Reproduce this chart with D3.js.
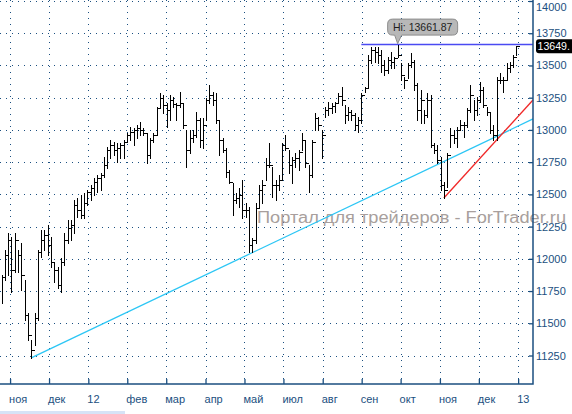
<!DOCTYPE html>
<html><head><meta charset="utf-8">
<script src="https://cdn.jsdelivr.net/npm/d3@7"></script>
<style>html,body{margin:0;padding:0;background:#fff;overflow:hidden}</style>
</head><body>
<svg id="c" width="572" height="414"></svg>
<script>
// ---- data ----
const monthLabels = ["ноя","дек","12","фев","мар","апр","май","июл","авг","сен","окт","ноя","дек","13"];
const monthTickBars = [2.6,14.4,26.3,38.1,49.9,61.8,73.6,85.4,97.3,109.1,120.9,132.8,144.6,156.5];
const yTicks = [11250,11500,11750,12000,12250,12500,12750,13000,13250,13500,13750,14000];

const high = [11875,12069,12200,12170,12200,12069,12123,11836,11580,11371,11580,12069,12224,12224,12263,12170,11976,11937,12007,12200,12302,12302,12457,12472,12495,12511,
12534,12573,12627,12651,
12666,12790,12868,12922,12906,12899,12899,12922,12976,13023,13015,13038,13062,13015,12976,12938,12976,13178,13287,13271,13209,13271,13256,13209,13294,13209,13000,13000,13000,13139,13093,13093,
13248,13349,13294,13287,13077,12938,12860,12689,12588,12511,12550,12612,12433,12402,12162,12433,12573,12612,12782,12899,12713,12612,12651,12899,12961,12845,12790,12821,12845,12976,12922,12728,
12922,13131,13100,13000,13178,13217,13209,13217,13287,13333,13194,13178,13155,13131,13100,13287,13333,13581,13640,13643,13645,13620,13543,13566,13605,13566,13661.87,13519,13411,13519,13597,13543,13364,
13310,13155,13287,13271,12899,12883,12790,12596,12821,13015,13000,13023,13077,13062,13170,13349,13232,13256,13372,13333,13178,13139,13038,13411,13442,13411,13519,13527,13581,13652];

const low = [11658,11836,11875,11743,11898,11898,11758,11526,11371,11231,11332,11526,12014,12069,12030,11937,11820,11774,11743,11952,12123,12146,12200,12325,12317,12317,
12418,12457,12495,12519,
12534,12635,12705,12782,12806,12751,12782,12782,12906,12922,12883,12938,12961,12961,12744,12782,12906,12961,13178,13131,13023,13077,13178,13077,13178,13015,12713,12821,12906,12945,12868,12860,
13077,13209,13194,13054,12806,12829,12635,12588,12340,12433,12402,12317,12325,12053,12053,12123,12402,12433,12612,12713,12480,12457,12534,12612,12845,12666,12588,12713,12689,12845,12713,12519,
12635,13000,13000,12782,13100,13116,13131,13139,13217,13194,13054,13077,13077,13000,12984,13054,13294,13325,13519,13527,13519,13450,13426,13442,13481,13481,13566,13387,13325,13403,13488,13310,13077,
13054,13054,13100,12868,12821,12744,12534,12472,12557,12868,12899,12868,13000,12945,13023,13139,13077,13116,13217,13178,13116,12976,12922,12922,13364,13294,13387,13450,13488,13581];

const close = [11859,12030,12146,11914,12146,12030,11875,11565,11409,11293,11541,12053,12146,12185,12108,11976,11914,11797,11976,12146,12239,12263,12418,12379,12340,12433,
12519,12550,12596,12627,
12651,12728,12845,12883,12845,12860,12883,12906,12961,12984,13000,13015,13000,12976,12806,12922,12961,13170,13248,13194,13155,13232,13201,13194,13209,13038,12845,12938,12961,13077,12922,13038,
13232,13271,13232,13077,12922,12845,12674,12596,12457,12472,12495,12379,12379,12108,12146,12395,12534,12573,12728,12728,12573,12573,12612,12883,12860,12728,12767,12782,12829,12922,12744,12651,
12906,13093,13038,12961,13155,13170,13186,13209,13263,13232,13116,13139,13116,13038,13077,13271,13325,13543,13620,13605,13581,13504,13465,13543,13527,13558,13581,13426,13387,13504,13527,13349,13155,
13232,13116,13232,12883,12845,12767,12573,12534,12806,12961,12938,13000,13038,13038,13155,13271,13155,13232,13310,13194,13139,13000,12961,13387,13387,13387,13481,13504,13566,13649.70];

const hiValue = 13661.87, hiBar = 120, hiLineStartBar = 109;
const lastValue = 13649.70;
const lastLabel = "13649.";
const cyanLine = [[9, 11231], [161, 13085]];
const redLine = [[134, 12472], [161, 13232]];
const watermark = "Портал для трейдеров - ForTrader.ru";

// ---- drawing ----
const svg = d3.select('#c');
const plotR = 533, plotB = 384;
const navy = "#1b4f80";
const x = d3.scaleLinear().domain([0, 161]).range([1.5, plotR]);
const y = d3.scaleLinear().domain([11029, 14007.8]).range([plotB, 0]);
const fontFam = "'Liberation Sans', Arial, sans-serif";

svg.append("rect").attr("width",572).attr("height",414).attr("fill","#fff");

// grid
const gGrid = svg.append("g").attr("shape-rendering","crispEdges");
gGrid.selectAll("line.h").data(yTicks).join("line")
  .attr("x1",0).attr("x2",plotR)
  .attr("y1",d=>Math.round(y(d))+0.5).attr("y2",d=>Math.round(y(d))+0.5)
  .attr("stroke",navy).attr("stroke-dasharray","1,5");
gGrid.selectAll("line.v").data(monthTickBars).join("line")
  .attr("y1",0).attr("y2",plotB)
  .attr("x1",d=>Math.round(x(d))+0.5).attr("x2",d=>Math.round(x(d))+0.5)
  .attr("stroke",navy).attr("stroke-dasharray","1,5");

// watermark
svg.append("text").attr("x",257).attr("y",223).text(watermark)
  .attr("font-family",fontFam).attr("font-size",16).attr("fill","#a89f9d")
  .attr("textLength",309).attr("lengthAdjust","spacingAndGlyphs");

// trend lines
const line = d3.line().x(d=>x(d[0])).y(d=>y(d[1]));
svg.append("path").attr("d",line(cyanLine)).attr("stroke","#2cc6f5").attr("stroke-width",1.3).attr("fill","none");
svg.append("path").attr("d",line(redLine)).attr("stroke","#f02828").attr("stroke-width",1.3).attr("fill","none");

// hi line
svg.append("line").attr("x1",x(hiLineStartBar)).attr("x2",plotR)
  .attr("y1",y(hiValue)).attr("y2",y(hiValue))
  .attr("stroke","#4a4af2").attr("stroke-width",1.5);

// bars
const dx = x(1)-x(0);
let p = "";
high.forEach((h,i)=>{
  const xi = Math.round(x(i))+0.5;
  const yh = Math.round(y(h)), yl = Math.round(y(low[i]))+1, yc = Math.round(y(close[i]))+0.5;
  p += `M${xi},${yh}V${yl}M${xi},${yc}H${(xi+Math.round(dx)).toFixed(1)}`;
});
svg.append("path").attr("d",p).attr("stroke","#000").attr("stroke-width",1)
  .attr("fill","none").attr("shape-rendering","crispEdges");

// axes
const yAxis = d3.axisRight(y).tickValues(yTicks).tickSize(-4).tickPadding(3).tickFormat(d3.format("d"));
const gy = svg.append("g").attr("transform",`translate(${plotR},0)`).call(yAxis);
const xAxis = d3.axisBottom(x).tickValues(monthTickBars).tickSize(-5).tickPadding(11).tickFormat((d,i)=>monthLabels[i]);
const gx = svg.append("g").attr("transform",`translate(0,${plotB})`).call(xAxis);
[gx,gy].forEach(g=>{
  g.select(".domain").remove();
  g.selectAll("line").attr("stroke",navy).attr("stroke-width",1.3);
  g.selectAll("text").attr("fill",navy).attr("font-family",fontFam).attr("font-size",11);
});
gx.selectAll("text").attr("text-anchor","start").attr("dx",-1.5);
// keep the top label inside the picture
gy.selectAll(".tick").filter(d=>d===14000).select("text").attr("dy","0.95em").attr("y",-1);
svg.append("path").attr("d",`M0,${plotB}H${plotR}V0`).attr("stroke",navy).attr("stroke-width",1.5).attr("fill","none");

// last price label
const yl = y(lastValue);
svg.append("rect").attr("x",536).attr("y",yl-7).attr("width",60).attr("height",14).attr("rx",3).attr("fill","#000");
svg.append("text").attr("x",537.5).attr("y",yl+4).text(lastLabel)
  .attr("fill","#fff").attr("font-family",fontFam).attr("font-size",10.6);

// Hi callout
const hx = x(hiBar), hy = y(hiValue);
const bx = hx-10, by = hy-25.5, bw = 70, bh = 16;
svg.append("path")
  .attr("d",`M${bx+5},${by}H${bx+bw-5}Q${bx+bw},${by} ${bx+bw},${by+5}V${by+bh-5}Q${bx+bw},${by+bh} ${bx+bw-5},${by+bh}H${hx+4}L${hx},${hy-1}L${hx-3},${by+bh}H${bx+5}Q${bx},${by+bh} ${bx},${by+bh-5}V${by+5}Q${bx},${by} ${bx+5},${by}Z`)
  .attr("fill","#b8b8b8").attr("stroke","#8c8c8c").attr("stroke-width",1);
svg.append("text").attr("x",bx+bw/2).attr("y",by+12).attr("text-anchor","middle")
  .text("Hi: " + hiValue.toFixed(2))
  .attr("fill","#1e1e1e").attr("font-family",fontFam).attr("font-size",10.5);

// scrollbar strip
svg.append("rect").attr("x",0).attr("y",411).attr("width",125).attr("height",3).attr("fill","#d6e3f6");
</script>
</body></html>
